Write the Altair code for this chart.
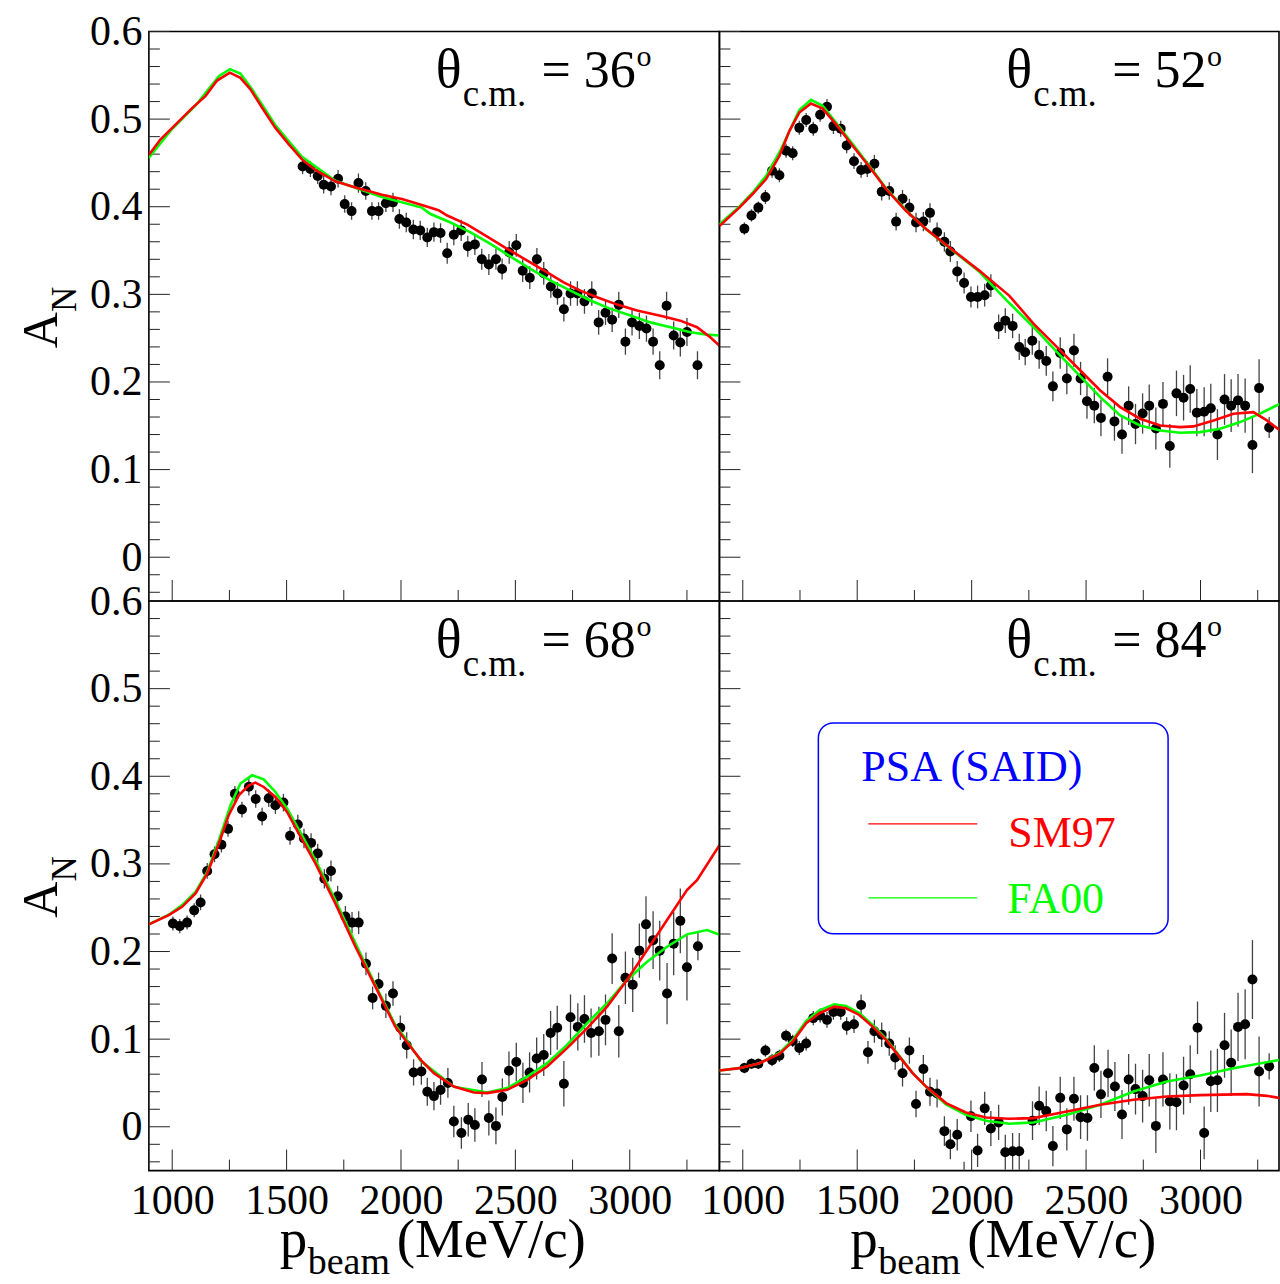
import altair as alt
import pandas as pd

FONT = "Liberation Serif"
RED = "#ff0000"
GREEN = "#00ff00"
BLUE = "#0000ff"

# ---------------- axes / ticks ----------------
X_MAJOR = [1000, 1500, 2000, 2500, 3000]
X_MINOR = [1250, 1750, 2250, 2750, 3250]
Y_MAJOR = [0.0, 0.1, 0.2, 0.3, 0.4, 0.5, 0.6]
Y_MINOR = [-0.04, -0.02, 0.02, 0.04, 0.06, 0.08, 0.12, 0.14, 0.16, 0.18, 0.22, 0.24,
           0.26, 0.28, 0.32, 0.34, 0.36, 0.38, 0.42, 0.44, 0.46, 0.48, 0.52, 0.54, 0.56, 0.58]
XDOM_L = [898, 3392]
XDOM_R = [898, 3343]
YDOM = [-0.05, 0.6]
W_L, W_R, H = 571, 560, 570

ANGLES = ["36", "52", "68", "84"]

# ---------------- theta = 36 deg ----------------
TL_X = [1570, 1604, 1636, 1662, 1694, 1725, 1754, 1784, 1814, 1846, 1873, 1902, 1934, 1965, 1993,
        2023, 2054, 2084, 2115, 2144, 2173, 2202, 2231, 2263, 2292, 2323, 2353, 2384, 2415, 2442,
        2473, 2504, 2532, 2563, 2594, 2624, 2655, 2684, 2712, 2741, 2771, 2802, 2834, 2864, 2894,
        2923, 2952, 2981, 3010, 3042, 3073, 3102, 3131, 3161, 3192, 3221, 3250, 3296]
TL_Y = [0.446, 0.443, 0.435, 0.425, 0.423, 0.432, 0.403, 0.395, 0.427, 0.418, 0.395, 0.395, 0.404,
        0.405, 0.386, 0.382, 0.374, 0.373, 0.365, 0.371, 0.370, 0.347, 0.368, 0.373, 0.355, 0.357,
        0.340, 0.334, 0.340, 0.329, 0.348, 0.356, 0.327, 0.319, 0.340, 0.324, 0.309, 0.301, 0.283,
        0.301, 0.301, 0.292, 0.301, 0.268, 0.279, 0.271, 0.288, 0.246, 0.268, 0.264, 0.261, 0.246,
        0.219, 0.287, 0.253, 0.245, 0.257, 0.219]
TL_E = [0.009, 0.009, 0.009, 0.010, 0.010, 0.010, 0.010, 0.010, 0.011, 0.010, 0.010, 0.010, 0.010,
        0.011, 0.011, 0.011, 0.011, 0.011, 0.011, 0.011, 0.011, 0.012, 0.012, 0.012, 0.012, 0.012,
        0.012, 0.012, 0.012, 0.012, 0.013, 0.013, 0.013, 0.013, 0.013, 0.013, 0.013, 0.013, 0.014,
        0.014, 0.014, 0.014, 0.014, 0.014, 0.014, 0.014, 0.015, 0.015, 0.015, 0.015, 0.015, 0.015,
        0.016, 0.016, 0.016, 0.016, 0.016, 0.016]
TL_SM_X = [898, 949, 1000, 1087, 1146, 1196, 1252, 1298, 1342, 1393, 1451, 1509, 1567, 1626, 1713,
           1801, 1917, 2004, 2091, 2164, 2202, 2290, 2377, 2464, 2552, 2639, 2711, 2784, 2857, 2945,
           3032, 3148, 3221, 3294, 3352, 3396]
TL_SM_Y = [0.459, 0.477, 0.490, 0.5125, 0.5265, 0.544, 0.553, 0.547, 0.534, 0.513, 0.490, 0.4715,
           0.454, 0.442, 0.429, 0.422, 0.4137, 0.4088, 0.402, 0.396, 0.390, 0.3795, 0.366, 0.352,
           0.3385, 0.325, 0.3137, 0.3043, 0.2966, 0.2883, 0.2815, 0.2746, 0.270, 0.2625, 0.251, 0.2405]
TL_FA_X = [898, 1000, 1100, 1204, 1252, 1298, 1349, 1451, 1567, 1713, 1917, 2091, 2129, 2217, 2304,
           2391, 2479, 2566, 2654, 2741, 2828, 2916, 3003, 3090, 3178, 3265, 3338, 3396]
TL_FA_Y = [0.456, 0.489, 0.515, 0.549, 0.557, 0.552, 0.534, 0.493, 0.457, 0.4296, 0.411, 0.399,
           0.3917, 0.382, 0.3707, 0.3575, 0.343, 0.329, 0.3157, 0.3043, 0.293, 0.2834, 0.2758,
           0.268, 0.2625, 0.2568, 0.254, 0.253]

# ---------------- theta = 52 deg ----------------
TR_X = [1007, 1038, 1068, 1099, 1128, 1160, 1189, 1218, 1247, 1277, 1308, 1338, 1368, 1396, 1428,
        1454, 1486, 1517, 1544, 1575, 1607, 1640, 1670, 1698, 1728, 1757, 1789, 1818, 1849, 1881,
        1907, 1937, 1967, 1997, 2026, 2057, 2084, 2118, 2147, 2179, 2208, 2234, 2265, 2295, 2326,
        2355, 2387, 2416, 2447, 2476, 2504, 2536, 2565, 2594, 2624, 2657, 2686, 2716, 2747, 2776,
        2805, 2836, 2866, 2895, 2926, 2955, 2984, 3016, 3045, 3074, 3105, 3134, 3164, 3195, 3227,
        3256, 3300]
TR_Y = [0.375, 0.390, 0.399, 0.411, 0.441, 0.436, 0.464, 0.461, 0.490, 0.499, 0.489, 0.505, 0.514,
        0.492, 0.489, 0.470, 0.452, 0.442, 0.443, 0.449, 0.417, 0.418, 0.383, 0.409, 0.399, 0.382,
        0.383, 0.393, 0.371, 0.360, 0.349, 0.326, 0.313, 0.297, 0.297, 0.299, 0.310, 0.263, 0.270,
        0.264, 0.240, 0.234, 0.247, 0.231, 0.224, 0.195, 0.233, 0.204, 0.236, 0.204, 0.178, 0.173,
        0.159, 0.206, 0.155, 0.140, 0.173, 0.152, 0.164, 0.173, 0.147, 0.175, 0.127, 0.187, 0.182,
        0.192, 0.165, 0.166, 0.170, 0.140, 0.180, 0.173, 0.179, 0.173, 0.128, 0.193, 0.148]
TR_E = [0.007, 0.007, 0.007, 0.008, 0.008, 0.008, 0.008, 0.008, 0.008, 0.008, 0.008, 0.008, 0.009,
        0.009, 0.009, 0.009, 0.009, 0.009, 0.009, 0.010, 0.010, 0.010, 0.010, 0.010, 0.010, 0.011,
        0.011, 0.011, 0.011, 0.011, 0.012, 0.012, 0.012, 0.012, 0.013, 0.013, 0.013, 0.014, 0.014,
        0.014, 0.015, 0.015, 0.016, 0.016, 0.017, 0.017, 0.018, 0.018, 0.019, 0.019, 0.020, 0.020,
        0.021, 0.021, 0.022, 0.022, 0.022, 0.023, 0.023, 0.024, 0.024, 0.025, 0.025, 0.026, 0.026,
        0.027, 0.027, 0.028, 0.028, 0.029, 0.029, 0.030, 0.030, 0.031, 0.032, 0.033, 0.012]
TR_SM_X = [898, 985, 1043, 1102, 1160, 1204, 1247, 1298, 1349, 1407, 1480, 1553, 1626, 1713, 1801,
           1917, 2033, 2164, 2271, 2373, 2475, 2562, 2649, 2736, 2824, 2911, 2969, 3057, 3144, 3231,
           3290, 3348]
TR_SM_Y = [0.378, 0.399, 0.4145, 0.4316, 0.458, 0.4866, 0.5075, 0.5177, 0.512, 0.4942, 0.4695,
           0.4456, 0.4202, 0.3954, 0.3746, 0.3507, 0.3271, 0.2986, 0.2663, 0.2397, 0.2131, 0.1903,
           0.1713, 0.1581, 0.1504, 0.1485, 0.1493, 0.1561, 0.1638, 0.1656, 0.1561, 0.1447]
TR_FA_X = [898, 985, 1043, 1102, 1160, 1247, 1298, 1349, 1407, 1480, 1553, 1626, 1713, 1801, 1917,
           2033, 2154, 2271, 2373, 2475, 2562, 2649, 2736, 2824, 2911, 2998, 3086, 3173, 3260, 3348]
TR_FA_Y = [0.380, 0.400, 0.416, 0.4353, 0.4619, 0.5102, 0.522, 0.5151, 0.4961, 0.4714, 0.4467,
           0.421, 0.396, 0.3744, 0.350, 0.326, 0.2929, 0.2625, 0.234, 0.2063, 0.1827, 0.1618,
           0.1504, 0.1447, 0.1421, 0.1428, 0.1467, 0.1542, 0.1638, 0.1752]

# ---------------- theta = 68 deg ----------------
BL_X = [1003, 1033, 1065, 1096, 1124, 1153, 1185, 1215, 1244, 1274, 1305, 1335, 1365, 1393, 1422,
        1451, 1486, 1515, 1549, 1576, 1607, 1636, 1665, 1694, 1723, 1757, 1786, 1815, 1847, 1876,
        1902, 1934, 1965, 1997, 2025, 2055, 2089, 2115, 2144, 2173, 2205, 2231, 2264, 2294, 2323,
        2354, 2384, 2415, 2443, 2472, 2504, 2533, 2562, 2593, 2624, 2654, 2683, 2712, 2741, 2773,
        2802, 2831, 2865, 2894, 2923, 2952, 2981, 3013, 3042, 3071, 3102, 3131, 3163, 3192, 3221,
        3250, 3298]
BL_Y = [0.232, 0.229, 0.233, 0.247, 0.256, 0.292, 0.311, 0.322, 0.340, 0.380, 0.362, 0.388, 0.374,
        0.354, 0.375, 0.367, 0.370, 0.332, 0.345, 0.329, 0.324, 0.312, 0.283, 0.292, 0.263, 0.240,
        0.233, 0.233, 0.186, 0.147, 0.163, 0.138, 0.152, 0.113, 0.093, 0.062, 0.063, 0.040, 0.035,
        0.042, 0.050, 0.006, -0.007, 0.008, 0.002, 0.054, 0.010, 0.001, 0.034, 0.064, 0.074, 0.050,
        0.062, 0.078, 0.082, 0.107, 0.113, 0.049, 0.125, 0.114, 0.123, 0.107, 0.109, 0.122, 0.192,
        0.109, 0.170, 0.162, 0.201, 0.231, 0.213, 0.201, 0.152, 0.209, 0.235, 0.182, 0.206]
BL_E = [0.008, 0.008, 0.008, 0.008, 0.009, 0.009, 0.009, 0.009, 0.009, 0.009, 0.009, 0.010, 0.010,
        0.010, 0.010, 0.010, 0.010, 0.010, 0.011, 0.011, 0.011, 0.011, 0.011, 0.012, 0.012, 0.012,
        0.012, 0.013, 0.013, 0.013, 0.013, 0.014, 0.014, 0.014, 0.015, 0.015, 0.015, 0.016, 0.016,
        0.017, 0.017, 0.018, 0.018, 0.019, 0.019, 0.020, 0.020, 0.021, 0.021, 0.022, 0.022, 0.023,
        0.023, 0.024, 0.024, 0.025, 0.025, 0.026, 0.026, 0.027, 0.027, 0.028, 0.028, 0.029, 0.029,
        0.030, 0.030, 0.031, 0.031, 0.032, 0.033, 0.034, 0.035, 0.036, 0.037, 0.038, 0.016]
BL_SM_X = [898, 985, 1043, 1102, 1153, 1204, 1247, 1291, 1335, 1364, 1400, 1451, 1502, 1553, 1626,
           1713, 1801, 1888, 1975, 2019, 2086, 2144, 2231, 2319, 2377, 2464, 2552, 2639, 2726, 2814,
           2901, 2988, 3076, 3163, 3250, 3294, 3392]
BL_SM_Y = [0.231, 0.2416, 0.251, 0.2663, 0.2891, 0.3233, 0.3556, 0.3783, 0.3897, 0.3928, 0.3878,
           0.3764, 0.3593, 0.3347, 0.3005, 0.2549, 0.2055, 0.1599, 0.1143, 0.0991, 0.0764, 0.0612,
           0.0459, 0.0391, 0.0384, 0.0422, 0.0536, 0.0687, 0.0897, 0.1125, 0.1371, 0.1675, 0.2017,
           0.2359, 0.2701, 0.2815, 0.3214]
BL_FA_X = [898, 985, 1043, 1102, 1153, 1204, 1255, 1298, 1349, 1400, 1451, 1502, 1567, 1626, 1713,
           1801, 1888, 1975, 2019, 2086, 2231, 2377, 2464, 2552, 2639, 2726, 2814, 2901, 2988, 3076,
           3163, 3250, 3338, 3396]
BL_FA_Y = [0.231, 0.242, 0.253, 0.2681, 0.2909, 0.327, 0.3669, 0.3917, 0.4011, 0.3966, 0.3821,
           0.3632, 0.3328, 0.3043, 0.2587, 0.2093, 0.1618, 0.1162, 0.1011, 0.0752, 0.0456, 0.0391,
           0.0441, 0.0573, 0.0726, 0.0934, 0.1182, 0.141, 0.1675, 0.1884, 0.2055, 0.2196, 0.2245,
           0.2188]

# ---------------- theta = 84 deg ----------------
BR_X = [1007, 1038, 1068, 1099, 1128, 1160, 1189, 1218, 1247, 1277, 1308, 1338, 1368, 1396, 1428,
        1454, 1486, 1517, 1547, 1575, 1607, 1640, 1666, 1698, 1728, 1757, 1789, 1818, 1849, 1881,
        1907, 1937, 1967, 1997, 2026, 2057, 2084, 2118, 2147, 2179, 2208, 2266, 2295, 2326, 2355,
        2387, 2416, 2447, 2476, 2506, 2536, 2565, 2596, 2626, 2657, 2686, 2716, 2747, 2776, 2805,
        2836, 2866, 2895, 2926, 2955, 2987, 3016, 3045, 3074, 3105, 3134, 3164, 3195, 3227, 3256,
        3300]
BR_Y = [0.067, 0.072, 0.072, 0.087, 0.076, 0.081, 0.104, 0.098, 0.090, 0.095, 0.124, 0.127, 0.122,
        0.131, 0.131, 0.115, 0.117, 0.139, 0.085, 0.109, 0.105, 0.095, 0.079, 0.061, 0.087, 0.026,
        0.066, 0.040, 0.038, -0.005, -0.020, -0.009, -0.058, 0.012, -0.027, 0.021, -0.002, 0.005,
        -0.029, -0.028, -0.028, 0.007, 0.024, 0.018, -0.022, 0.033, -0.003, 0.032, 0.011, 0.010,
        0.067, 0.037, 0.061, 0.046, 0.014, 0.054, 0.043, 0.035, 0.053, 0.001, 0.054, 0.029, 0.028,
        0.047, 0.060, 0.113, -0.007, 0.052, 0.053, 0.093, 0.073, 0.114, 0.117, 0.168, 0.063, 0.069]
BR_E = [0.006, 0.006, 0.006, 0.007, 0.007, 0.007, 0.007, 0.007, 0.008, 0.008, 0.008, 0.008, 0.009,
        0.009, 0.009, 0.010, 0.010, 0.012, 0.013, 0.013, 0.014, 0.014, 0.014, 0.015, 0.015, 0.015,
        0.016, 0.016, 0.016, 0.017, 0.017, 0.018, 0.018, 0.018, 0.019, 0.019, 0.020, 0.020, 0.020,
        0.021, 0.021, 0.022, 0.022, 0.023, 0.023, 0.024, 0.024, 0.025, 0.025, 0.026, 0.026, 0.027,
        0.027, 0.028, 0.028, 0.029, 0.029, 0.030, 0.030, 0.031, 0.031, 0.032, 0.032, 0.033, 0.033,
        0.030, 0.030, 0.035, 0.036, 0.037, 0.038, 0.039, 0.040, 0.045, 0.040, 0.015]
BR_SM_X = [898, 985, 1073, 1160, 1218, 1277, 1335, 1400, 1451, 1509, 1567, 1626, 1684, 1742, 1801,
           1888, 1975, 2063, 2164, 2270, 2416, 2562, 2707, 2853, 2998, 3202, 3290, 3348]
BR_SM_Y = [0.0642, 0.0669, 0.0726, 0.0832, 0.0972, 0.1182, 0.1296, 0.1371, 0.1353, 0.1276, 0.1143,
           0.0991, 0.0801, 0.0612, 0.0459, 0.027, 0.0163, 0.0106, 0.0091, 0.0099, 0.0174, 0.0251,
           0.0308, 0.0345, 0.0361, 0.0373, 0.0353, 0.0327]
BR_FA_X = [898, 985, 1073, 1160, 1218, 1277, 1335, 1400, 1451, 1509, 1567, 1626, 1684, 1742, 1801,
           1888, 1975, 2063, 2164, 2270, 2416, 2562, 2707, 2853, 2998, 3144, 3348]
BR_FA_Y = [0.0642, 0.0669, 0.0726, 0.0843, 0.0991, 0.1208, 0.1328, 0.1398, 0.1379, 0.1299, 0.1162,
           0.1003, 0.0809, 0.0615, 0.0456, 0.0256, 0.0137, 0.0068, 0.0034, 0.0049, 0.0137, 0.0251,
           0.0402, 0.0516, 0.0585, 0.0669, 0.0764]

LEGEND_TITLE = "PSA (SAID)"
LEGEND_NAMES = ["SM97", "FA00"]

ONE = pd.DataFrame({"k": [0]})


def txt(s, x, y, size, color="black", align="left", angle=None):
    kw = dict(text=s, font=FONT, fontSize=size, color=color, align=align, baseline="alphabetic")
    if angle is not None:
        kw["angle"] = angle
    return alt.Chart(ONE).mark_text(**kw).encode(x=alt.value(x), y=alt.value(y))


def panel(px, py, pe, rx, ry, gx, gy, ang, width, xdom, left, bottom, legend=False, anchor=False):
    xsc = alt.Scale(domain=xdom, nice=False, zero=False)
    ysc = alt.Scale(domain=YDOM, nice=False, zero=False)
    if bottom:
        xax = alt.Axis(values=X_MAJOR, ticks=False, domain=False, grid=False, labelFont=FONT,
                       labelFontSize=42, labelColor="black", labelPadding=10, labelOverlap=False,
                       labelFlush=False, format="d")
    else:
        xax = None
    if left:
        yax = alt.Axis(values=Y_MAJOR, ticks=False, domain=False, grid=False, labelFont=FONT,
                       labelFontSize=42, labelColor="black", labelPadding=7, labelOverlap=False,
                       labelFlush=False, format=".1~f")
    else:
        yax = None

    def X(f):
        return alt.X(f, type="quantitative", scale=xsc, axis=xax, title=None)

    def Y(f):
        return alt.Y(f, type="quantitative", scale=ysc, axis=yax, title=None)

    pts = pd.DataFrame({"x": px, "y": py,
                        "lo": [a - b for a, b in zip(py, pe)],
                        "hi": [a + b for a, b in zip(py, pe)]})
    sm = pd.DataFrame({"x": rx, "y": ry})
    fa = pd.DataFrame({"x": gx, "y": gy})

    layers = []
    layers.append(alt.Chart(pd.DataFrame({"y": Y_MAJOR})).mark_rule(color="#222", strokeWidth=1)
                  .encode(y=Y("y"), x=alt.value(0), x2=alt.value(21)))
    layers.append(alt.Chart(pd.DataFrame({"y": Y_MINOR})).mark_rule(color="#222", strokeWidth=1)
                  .encode(y=Y("y"), x=alt.value(0), x2=alt.value(11)))
    layers.append(alt.Chart(pd.DataFrame({"x": X_MAJOR})).mark_rule(color="#222", strokeWidth=1)
                  .encode(x=X("x"), y=alt.value(H), y2=alt.value(H - 21)))
    layers.append(alt.Chart(pd.DataFrame({"x": X_MINOR})).mark_rule(color="#222", strokeWidth=1)
                  .encode(x=X("x"), y=alt.value(H), y2=alt.value(H - 11)))
    layers.append(alt.Chart(pts).mark_rule(color="#444", strokeWidth=1.3, clip=True)
                  .encode(x=X("x"), y=Y("lo"), y2="hi"))
    layers.append(alt.Chart(pts).mark_circle(size=100, color="black", opacity=1, clip=True)
                  .encode(x=X("x"), y=Y("y")))
    layers.append(alt.Chart(fa).mark_line(color=GREEN, strokeWidth=2.6, clip=True)
                  .encode(x=X("x"), y=Y("y")))
    layers.append(alt.Chart(sm).mark_line(color=RED, strokeWidth=2.6, clip=True)
                  .encode(x=X("x"), y=Y("y")))

    # angle label
    layers.append(txt("θ", 287, 56, 54))
    layers.append(txt("c.m.", 314, 75, 37))
    layers.append(txt("= " + ang, 393, 56, 52))
    layers.append(txt("o", 488, 35, 30))

    if left:
        layers.append(txt("A", -92, 299, 50, align="center", angle=270))
        layers.append(txt("N", -73, 268, 35, align="center", angle=270))
    if bottom:
        layers.append(txt("p", 131, 656, 55))
        layers.append(txt("beam", 159, 673, 38))
        layers.append(txt("(MeV/c)", 248, 656, 55))
    if legend:
        layers.append(alt.Chart(ONE).mark_rect(fillOpacity=0, stroke=BLUE, strokeWidth=1.5,
                                               cornerRadius=15)
                      .encode(x=alt.value(99), x2=alt.value(449), y=alt.value(122), y2=alt.value(333)))
        layers.append(txt(LEGEND_TITLE, 142, 180, 44, color=BLUE))
        layers.append(alt.Chart(ONE).mark_rule(color=RED, strokeWidth=1.2)
                      .encode(x=alt.value(149), x2=alt.value(258), y=alt.value(223)))
        layers.append(txt(LEGEND_NAMES[0], 289, 246, 44, color=RED))
        layers.append(alt.Chart(ONE).mark_rule(color=GREEN, strokeWidth=1.2)
                      .encode(x=alt.value(149), x2=alt.value(258), y=alt.value(297)))
        layers.append(txt(LEGEND_NAMES[1], 288, 312, 44, color=GREEN))
    if anchor:
        layers.append(alt.Chart(ONE).mark_rule(strokeOpacity=0, opacity=0)
                      .encode(x=alt.value(-148), x2=alt.value(-147), y=alt.value(-30)))
    return alt.layer(*layers).properties(width=width, height=H)


TL = panel(TL_X, TL_Y, TL_E, TL_SM_X, TL_SM_Y, TL_FA_X, TL_FA_Y, ANGLES[0], W_L, XDOM_L,
           True, False, anchor=True)
TR = panel(TR_X, TR_Y, TR_E, TR_SM_X, TR_SM_Y, TR_FA_X, TR_FA_Y, ANGLES[1], W_R, XDOM_R,
           False, False)
BL = panel(BL_X, BL_Y, BL_E, BL_SM_X, BL_SM_Y, BL_FA_X, BL_FA_Y, ANGLES[2], W_L, XDOM_L,
           True, True)
BR = panel(BR_X, BR_Y, BR_E, BR_SM_X, BR_SM_Y, BR_FA_X, BR_FA_Y, ANGLES[3], W_R, XDOM_R,
           False, True, legend=True)

chart = (alt.concat(TL, TR, BL, BR, columns=2, spacing=0, bounds="flush")
         .properties(padding=0, background="white")
         .configure_view(stroke="black", strokeWidth=1.6))

chart.save("out.html", embed_options={"renderer": "svg", "actions": False})
